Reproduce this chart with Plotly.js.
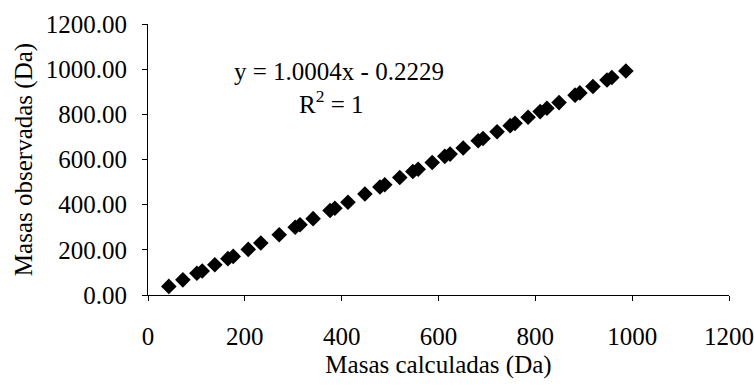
<!DOCTYPE html>
<html>
<head>
<meta charset="utf-8">
<script src="https://cdn.plot.ly/plotly-3.0.1.min.js"></script>
<style>html,body{margin:0;padding:0;background:#fff;}#chart{width:754px;height:388px;}</style>
</head>
<body>
<div id="chart"></div>
<script>
const calculadas = [43, 72, 101, 112, 138, 165, 176, 207, 233, 271, 304, 314, 341, 376, 386, 413, 448, 479, 489, 520, 547, 558, 587, 613, 624, 651, 682, 692, 721, 748, 758, 785, 810, 824, 849, 882, 892, 919, 948, 958, 987];
const observadas = [38, 67, 96, 106, 134, 161, 171, 202, 230, 267, 300, 311, 338, 374, 384, 411, 447, 478, 488, 520, 547, 557, 587, 614, 624, 651, 683, 693, 723, 750, 760, 787, 812, 827, 852, 885, 895, 923, 952, 963, 992];
const xTicks = [0, 200, 400, 600, 800, 1000, 1200];
const yTicks = [0, 200, 400, 600, 800, 1000, 1200];
const yTickLabels = ["0.00", "200.00", "400.00", "600.00", "800.00", "1000.00", "1200.00"];
const eqText = "y = 1.0004x - 0.2229";
const r2Text = "R<sup>2</sup> = 1";

const font = {family: "Liberation Serif, Times New Roman, serif", color: "#000"};

const trace = {
  x: calculadas, y: observadas, type: "scatter", mode: "markers",
  marker: {symbol: "diamond", size: 12, color: "#000"},
  hoverinfo: "none"
};

const layout = {
  width: 754, height: 388,
  margin: {l: 148, r: 25, t: 24, b: 93},
  paper_bgcolor: "#fff", plot_bgcolor: "#fff",
  showlegend: false,
  font: Object.assign({size: 25}, font),
  xaxis: {
    range: [0, 1200], tickvals: xTicks, ticktext: xTicks.map(String),
    showgrid: false, zeroline: false, showline: true, linecolor: "#000", linewidth: 1,
    ticks: "outside", ticklen: 5, tickcolor: "#000", ticklabelstandoff: 14,
    tickfont: Object.assign({size: 25}, font),
    title: {text: "Masas calculadas (Da)", font: Object.assign({size: 25}, font), standoff: 6}
  },
  yaxis: {
    range: [0, 1200], tickvals: yTicks, ticktext: yTickLabels,
    showgrid: false, zeroline: false, showline: true, linecolor: "#000", linewidth: 1,
    ticks: "outside", ticklen: 5, tickcolor: "#000", ticklabelstandoff: 10,
    tickfont: Object.assign({size: 25}, font),
    title: {text: "Masas observadas (Da)", font: Object.assign({size: 25}, font), standoff: 6}
  },
  annotations: [
    {x: 394, y: 988, xref: "x", yref: "y", text: eqText, showarrow: false,
     font: Object.assign({size: 25}, font), xanchor: "center", yanchor: "middle"},
    {x: 378, y: 856, xref: "x", yref: "y", text: r2Text, showarrow: false,
     font: Object.assign({size: 25}, font), xanchor: "center", yanchor: "middle"}
  ]
};

Plotly.newPlot("chart", [trace], layout, {staticPlot: true, displayModeBar: false});
</script>
</body>
</html>
